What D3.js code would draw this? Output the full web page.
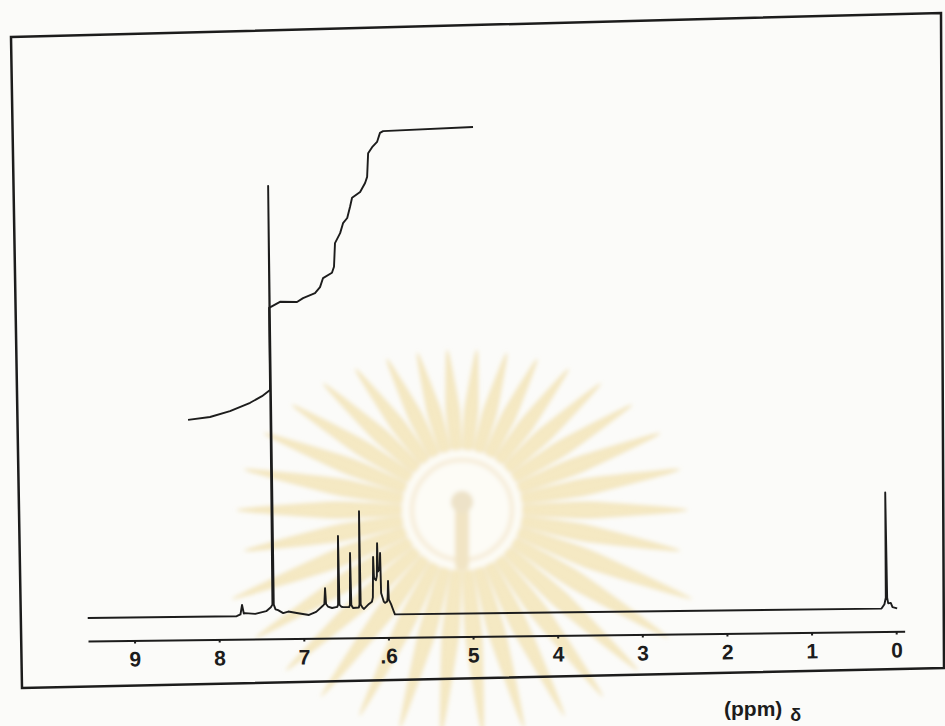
<!DOCTYPE html>
<html>
<head>
<meta charset="utf-8">
<script src="https://cdn.jsdelivr.net/npm/d3@7"></script>
<style>
  body { margin: 0; background: #fbfbf9; }
  svg { display: block; }
  .axis text { font-family: "Liberation Sans", Arial, sans-serif; font-weight: bold; font-size: 21px; fill: #1c1c1c; }
  .axis path, .axis line { stroke: #1c1c1c; stroke-width: 2; }
</style>
</head>
<body>
<script>
// axis ticks (ppm) and the labels as printed on the scan
var ppmTicks = [9, 8, 7, 6, 5, 4, 3, 2, 1, 0];
var tickLabels = ["9", "8", "7", ".6", "5", "4", "3", "2", "1", "0"];

// spectrum trace: chemical shift (ppm) / relative intensity
var specPpm = [9.55, 7.79, 7.745, 7.725, 7.705, 7.69, 7.57, 7.44, 7.385, 7.366, 7.358, 7.35, 7.33,
    7.30, 7.24, 7.18, 7.08, 6.935, 6.85, 6.77, 6.752, 6.742, 6.732, 6.71, 6.662,
    6.60, 6.59, 6.582, 6.574, 6.55, 6.532, 6.46, 6.45, 6.442, 6.434, 6.414,
    6.345, 6.337, 6.33, 6.323, 6.30, 6.284, 6.225, 6.19, 6.178, 6.17, 6.162, 6.14, 6.128,
    6.121, 6.114, 6.10, 6.092, 6.087, 6.08, 6.05, 6.035, 6.01, 6.003, 5.997, 5.99, 5.964,
    5.93, 5.92, 0.17, 0.135, 0.118, 0.11, 0.102, 0.09, 0.06, 0.04, -0.015];
var specInt = [0, 0, 0.4, 2.6, 0.6, 0.7, 0.5, 1.1, 2.0, 2.6, 100, 2.6, 1.5,
    1.3, 0.6, 0.95, 0.6, 0.1, 0.8, 2.2, 2.6, 6.3, 2.6, 2.0, 1.65,
    1.9, 2.4, 18.4, 2.4, 1.9, 1.85, 1.8, 2.3, 14.4, 2.3, 1.6,
    1.7, 2.4, 24.1, 2.4, 1.6, 1.35, 2.5, 3.0, 4.0, 13.4, 8.5, 8.0, 9.0,
    16.6, 10.0, 10.5, 11.0, 14.3, 5.0, 3.0, 2.7, 3.0, 4.0, 7.8, 3.5, 2.4,
    0.5, 0, 0, 1.0, 2.5, 27.0, 2.5, 1.2, 1.3, 0.3, 0];

// integral trace (same vertical units)
var intPpm = [8.337, 8.077, 7.84, 7.601, 7.46, 7.364, 7.364, 7.234, 7.033, 6.961, 6.819, 6.759, 6.722,
    6.616, 6.591, 6.576, 6.514, 6.478, 6.428, 6.393, 6.368, 6.272, 6.212, 6.187, 6.172, 6.124,
    6.065, 6.029, 5.992, 4.929];
var intVal = [45.8, 46.4, 47.7, 49.6, 51.1, 52.5, 71.6, 73.0, 72.9, 73.8, 74.9, 76.3, 78.4,
    79.6, 81.0, 86.5, 88.8, 91.1, 92.3, 94.9, 97.0, 98.3, 100.4, 101.8, 107.3, 108.7,
    109.9, 112.0, 112.4, 113.1];

var W = 945, H = 726, ink = "#1c1c1c";

var svg = d3.select("body").append("svg")
    .attr("width", W)
    .attr("height", H);

svg.append("rect").attr("width", W).attr("height", H).attr("fill", "#fbfbf9");

var defs = svg.append("defs");
defs.append("filter").attr("id", "soft")
    .append("feGaussianBlur").attr("stdDeviation", 2.2);

// faint watermark emblem behind the plot
var wm = svg.append("g").attr("transform", "translate(462,510)").attr("filter", "url(#soft)");
var rays = d3.range(34);
wm.selectAll("path.ray")
    .data(rays)
    .enter().append("path")
    .attr("class", "ray")
    .attr("d", function (i) {
        var a = i / 34 * 2 * Math.PI;
        var rx = 225, ry = 160;
        if (Math.sin(a) > 0.3) { rx = 250; ry = 225; }
        var rOut = (rx * ry) / Math.sqrt(Math.pow(ry * Math.cos(a), 2) + Math.pow(rx * Math.sin(a), 2));
        var rIn = 62, half = 0.07;
        var p = function (r, t) { return [r * Math.cos(t), r * Math.sin(t)]; };
        var pts = [p(rIn, a - half), p(rIn + (rOut - rIn) * 0.4, a - half * 0.85), p(rOut, a),
            p(rIn + (rOut - rIn) * 0.4, a + half * 0.85), p(rIn, a + half)];
        return d3.line().curve(d3.curveCardinalClosed.tension(0.6))(pts);
    })
    .attr("fill", "#f3e2ad")
    .attr("stroke", "#ecd594")
    .attr("stroke-width", 1.5)
    .attr("opacity", 0.7);
wm.append("circle").attr("r", 60).attr("fill", "#fdfcf6");
wm.append("circle").attr("r", 50).attr("fill", "none").attr("stroke", "#f7eedb").attr("stroke-width", 5);
wm.append("rect").attr("x", -7).attr("y", -4).attr("width", 14).attr("height", 64)
    .attr("rx", 5).attr("fill", "#f1e4c4");
wm.append("circle").attr("cy", -8).attr("r", 11).attr("fill", "#ede2c8");

// hand-drawn frame of the scanned sheet
var frameCorners = [[11, 37], [941, 13], [944, 668], [22, 688]];
svg.append("path")
    .attr("d", d3.line()(frameCorners) + "Z")
    .attr("fill", "none")
    .attr("stroke", ink)
    .attr("stroke-width", 2.5);

// the chart paper is slightly tilted on the scan
var g = svg.append("g").attr("transform", "rotate(-0.68,88,641)");

var x = d3.scaleLinear().domain([9.55, -0.1]).range([88, 904.7]),
    y = d3.scaleLinear().domain([0, 100]).range([618, 188]);

var line = d3.line()
    .x(function (d) { return x(d[0]); })
    .y(function (d) { return y(d[1]); });

g.append("g")
    .attr("class", "axis")
    .attr("transform", "translate(0,641)")
    .call(d3.axisBottom(x)
        .tickValues(ppmTicks)
        .tickFormat(function (d, i) { return tickLabels[i]; })
        .tickSize(3)
        .tickSizeOuter(0)
        .tickPadding(8));

var spectrum = specPpm.map(function (p, i) { return [p, specInt[i]]; });
var integral = intPpm.map(function (p, i) { return [p, intVal[i]]; });

g.append("path")
    .datum(spectrum)
    .attr("d", line)
    .attr("fill", "none")
    .attr("stroke", ink)
    .attr("stroke-width", 1.9)
    .attr("stroke-linejoin", "round");

g.append("path")
    .datum(integral)
    .attr("d", line)
    .attr("fill", "none")
    .attr("stroke", ink)
    .attr("stroke-width", 1.9)
    .attr("stroke-linejoin", "round");

// unit label under the axis
var lab = svg.append("text")
    .attr("x", 724)
    .attr("y", 716)
    .style("font-family", "Liberation Sans, Arial, sans-serif")
    .style("font-weight", "bold")
    .style("font-size", "21px")
    .attr("fill", ink)
    .text("(ppm)");
lab.append("tspan")
    .attr("dx", 8)
    .attr("dy", 5)
    .style("font-size", "18px")
    .text("δ");
</script>
</body>
</html>
